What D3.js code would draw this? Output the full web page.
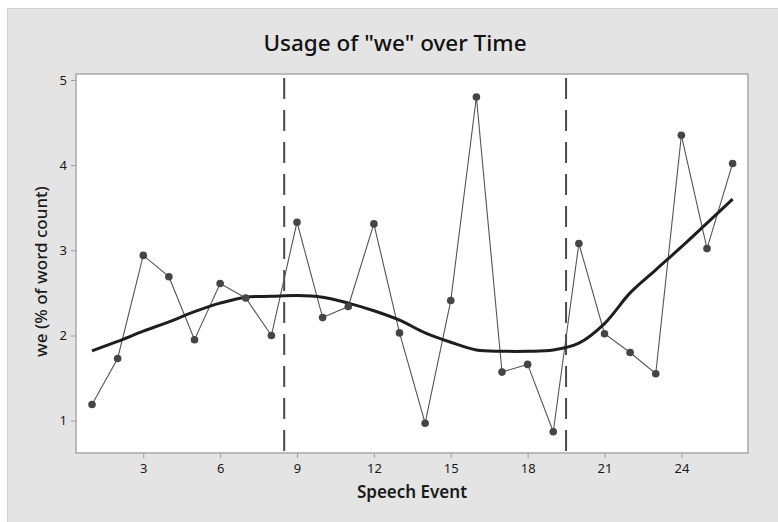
<!DOCTYPE html>
<html>
<head>
<meta charset="utf-8">
<script src="https://cdn.jsdelivr.net/npm/d3@7"></script>
<style>
  html, body { margin: 0; padding: 0; background: #ffffff; }
  svg { display: block; }
  text { font-family: "Noto Sans", "Open Sans", sans-serif; fill: #1a1a1a; }
</style>
</head>
<body>
<svg id="chart" width="778" height="522"></svg>
<script>
const titleText = 'Usage of "we" over Time';
const xLabel = "Speech Event";
const yLabel = "we (% of word count)";

const events = [1,2,3,4,5,6,7,8,9,10,11,12,13,14,15,16,17,18,19,20,21,22,23,24,25,26];
const weValues = [1.19,1.73,2.94,2.69,1.95,2.61,2.44,2.00,3.33,2.21,2.34,3.31,2.03,0.97,2.41,4.80,1.57,1.66,0.87,3.08,2.02,1.80,1.55,4.35,3.02,4.02];
const smoothValues = [1.82,1.93,2.05,2.16,2.28,2.38,2.45,2.46,2.47,2.45,2.38,2.29,2.18,2.03,1.92,1.83,1.815,1.815,1.83,1.91,2.14,2.50,2.77,3.04,3.32,3.60];
const xTicks = [3,6,9,12,15,18,21,24];
const yTicks = [1,2,3,4,5];
const phaseBreaks = [8.5, 19.5];

const svg = d3.select("#chart");
const W = 778, H = 522;
const plot = { left: 76, top: 74, right: 748, bottom: 453 };

// outer panel
svg.append("rect").attr("x", 7.5).attr("y", 8.5).attr("width", W).attr("height", H)
  .attr("fill", "#e4e4e4").attr("stroke", "#d2d2d2").attr("stroke-width", 1);

const x = d3.scaleLinear().domain([0.375, 26.6]).range([plot.left, plot.right]);
const y = d3.scaleLinear().domain([0.62, 5.07]).range([plot.bottom, plot.top]);

// plot area
svg.append("rect").attr("x", plot.left).attr("y", plot.top)
  .attr("width", plot.right - plot.left).attr("height", plot.bottom - plot.top)
  .attr("fill", "#ffffff");

// axes
const xAxis = d3.axisBottom(x).tickValues(xTicks).tickFormat(d3.format("d")).tickSize(5).tickPadding(6);
const yAxis = d3.axisLeft(y).tickValues(yTicks).tickFormat(d3.format("d")).tickSize(5).tickPadding(4);

const gx = svg.append("g").attr("transform", `translate(0,${plot.bottom})`).call(xAxis);
const gy = svg.append("g").attr("transform", `translate(${plot.left},0)`).call(yAxis);
[gx, gy].forEach(g => {
  g.select(".domain").remove();
  g.selectAll(".tick line").attr("stroke", "#9a9a9a");
  g.selectAll(".tick text").attr("fill", "#2a2a2a")
    .style("font-family", '"Noto Sans", sans-serif').style("font-size", "13px");
});

// plot border
svg.append("rect").attr("x", plot.left).attr("y", plot.top)
  .attr("width", plot.right - plot.left).attr("height", plot.bottom - plot.top)
  .attr("fill", "none").attr("stroke", "#a8a8a8").attr("stroke-width", 1.5);

// phase break lines
svg.append("g").selectAll("line").data(phaseBreaks).join("line")
  .attr("x1", d => x(d)).attr("x2", d => x(d))
  .attr("y1", plot.top + 4).attr("y2", plot.bottom)
  .attr("stroke", "#4a4a4a").attr("stroke-width", 2)
  .attr("stroke-dasharray", "21,11");

const pts = events.map((e, i) => ({ e, v: weValues[i], s: smoothValues[i] }));

// data line
svg.append("path").datum(pts)
  .attr("d", d3.line().x(d => x(d.e)).y(d => y(d.v)))
  .attr("fill", "none").attr("stroke", "#555555").attr("stroke-width", 1.1);

// smoother
svg.append("path").datum(pts)
  .attr("d", d3.line().x(d => x(d.e)).y(d => y(d.s)).curve(d3.curveCatmullRom))
  .attr("fill", "none").attr("stroke", "#1e1e1e").attr("stroke-width", 3);

// markers
svg.append("g").selectAll("circle").data(pts).join("circle")
  .attr("cx", d => x(d.e)).attr("cy", d => y(d.v)).attr("r", 3.8)
  .attr("fill", "#454545");

// title
svg.append("text").attr("x", 395).attr("y", 51).attr("text-anchor", "middle")
  .style("font-size", "22.5px").style("font-weight", "500").style("fill", "#111")
  .text(titleText);

// axis labels
svg.append("text").attr("x", (plot.left + plot.right) / 2).attr("y", 498)
  .attr("text-anchor", "middle").style("font-size", "17px").style("font-weight", "600")
  .text(xLabel);

svg.append("text").attr("transform", `translate(47,${(plot.top + plot.bottom) / 2 + 8}) rotate(-90)`)
  .attr("text-anchor", "middle").style("font-size", "17px").style("font-weight", "500")
  .text(yLabel);
</script>
</body>
</html>
